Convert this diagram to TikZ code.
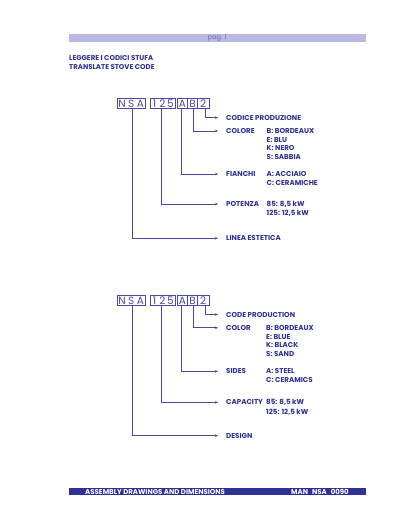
\documentclass[tikz,border=0pt]{standalone}
\usepackage{fontspec}
\setmainfont{Poppins}
\usetikzlibrary{arrows.meta}
\definecolor{navy}{HTML}{2E3192}
\definecolor{linec}{HTML}{4A4AA6}
\definecolor{lav}{HTML}{B9B9E3}
\definecolor{pagc}{HTML}{6A6AAE}
\begin{document}
\begin{tikzpicture}[x=1pt,y=-1pt,
  codebox/.style={draw=linec, line width=0.65pt, minimum height=10.5pt, inner sep=0pt},
  codechar/.style={text=linec, font=\fontsize{10.5}{10.5}\selectfont, inner sep=0pt},
  conn/.style={draw=linec, line width=0.65pt, -{Stealth[length=3pt,width=2.6pt]}},
  lbl/.style={anchor=west, inner xsep=8pt, inner ysep=0pt, text height=5pt, text depth=0pt, text=navy, font=\bfseries\fontsize{7.1}{8}\selectfont},
  val/.style={anchor=west, inner sep=0pt, text height=5pt, text depth=0pt, text=navy, font=\bfseries\fontsize{7.1}{8}\selectfont},
  title/.style={anchor=west, inner sep=0pt, text height=5pt, text depth=0pt, text=navy, font=\bfseries\fontsize{7}{8}\selectfont},
  foot/.style={anchor=west, inner sep=0pt, text height=5pt, text depth=0pt, text=white, font=\bfseries\fontsize{7}{8}\selectfont}]
\useasboundingbox (0,0) rectangle (400,518);
\fill[white] (0,0) rectangle (400,518);
% header
\node[fill=lav, minimum width=296.7pt, minimum height=7.4pt, inner sep=0pt] (hbar) at (217.35,38) {};
\node[text=pagc, font=\fontsize{6.5}{7}\selectfont, inner sep=0pt] (pag) at (hbar.center) {pag. 1};
\node[title] (t1) at (69,57.7) {LEGGERE I CODICI STUFA};
\node[title] (t2) at (69,66.7) {TRANSLATE STOVE CODE};
% footer
\node[fill=navy, minimum width=296.7pt, minimum height=7pt, inner sep=0pt] (fbar) at (217.35,491.5) {};
\node[foot] (ft1) at (85,491.5) {ASSEMBLY DRAWINGS AND DIMENSIONS};
\node[foot] (ft2) at (291,491.5) {MAN\hspace{4pt}NSA\hspace{4pt}0090};
% diagram 1
\begin{scope}[name prefix=a-]
\node[codebox, minimum width=28.5pt] (bnsa) at (131.25,103.5) {};
\node[codebox, minimum width=25pt] (b125) at (162.5,103.5) {};
\node[codebox, minimum width=10.4pt] (ba) at (182.5,103.5) {};
\node[codebox, minimum width=9.6pt] (bb) at (192.5,103.5) {};
\node[codebox, minimum width=11.7pt] (b2) at (203.15,103.5) {};
\node[codechar] (cn) at (122,103.5) {N};
\node[codechar] (cs) at (131.3,103.5) {S};
\node[codechar] (ca) at (140.5,103.5) {A};
\node[codechar] (c1) at (154.5,103.5) {1};
\node[codechar] (c2) at (162.5,103.5) {2};
\node[codechar] (c5) at (170.5,103.5) {5};
\node[codechar] (cA) at (182.5,103.5) {A};
\node[codechar] (cB) at (192.5,103.5) {B};
\node[codechar] (cd) at (203.2,103.5) {2};
\node[lbl] (l1) at (218,117.7) {CODICE PRODUZIONE};
\node[lbl] (l2) at (218,131) {COLORE};
\node[lbl] (l3) at (218,174) {FIANCHI};
\node[lbl] (l4) at (218,204) {POTENZA};
\node[lbl] (l5) at (218,238.3) {LINEA ESTETICA};
\node[val] (v21) at (266.5,131) {B: BORDEAUX};
\node[val] (v22) at (266.5,140) {E: BLU};
\node[val] (v23) at (266.5,148.5) {K: NERO};
\node[val] (v24) at (266.5,157.3) {S: SABBIA};
\node[val] (v31) at (266.5,174) {A: ACCIAIO};
\node[val] (v32) at (266.5,182.7) {C: CERAMICHE};
\node[val] (v41) at (266.5,204) {85: 8,5 kW};
\node[val] (v42) at (266.5,212.7) {125: 12,5 kW};
\draw[conn] ([xshift=2pt]b2.south) |- (l1.west);
\draw[conn] ([xshift=0.5pt]bb.south) |- (l2.west);
\draw[conn] ([xshift=-1.2pt]ba.south) |- (l3.west);
\draw[conn] ([xshift=-1.2pt]b125.south) |- (l4.west);
\draw[conn] ([xshift=0.7pt]bnsa.south) |- (l5.west);
\end{scope}
% diagram 2
\begin{scope}[name prefix=b-, shift={(0,197)}]
\node[codebox, minimum width=28.5pt] (bnsa) at (131.25,103.5) {};
\node[codebox, minimum width=25pt] (b125) at (162.5,103.5) {};
\node[codebox, minimum width=10.4pt] (ba) at (182.5,103.5) {};
\node[codebox, minimum width=9.6pt] (bb) at (192.5,103.5) {};
\node[codebox, minimum width=11.7pt] (b2) at (203.15,103.5) {};
\node[codechar] (cn) at (122,103.5) {N};
\node[codechar] (cs) at (131.3,103.5) {S};
\node[codechar] (ca) at (140.5,103.5) {A};
\node[codechar] (c1) at (154.5,103.5) {1};
\node[codechar] (c2) at (162.5,103.5) {2};
\node[codechar] (c5) at (170.5,103.5) {5};
\node[codechar] (cA) at (182.5,103.5) {A};
\node[codechar] (cB) at (192.5,103.5) {B};
\node[codechar] (cd) at (203.2,103.5) {2};
\node[lbl] (l1) at (218,117.5) {CODE PRODUCTION};
\node[lbl] (l2) at (218,130.8) {COLOR};
\node[lbl] (l3) at (218,174.3) {SIDES};
\node[lbl] (l4) at (218,205.3) {CAPACITY};
\node[lbl] (l5) at (218,238.7) {DESIGN};
\node[val] (v21) at (266,130.8) {B: BORDEAUX};
\node[val] (v22) at (266,139.7) {E: BLUE};
\node[val] (v23) at (266,148.3) {K: BLACK};
\node[val] (v24) at (266,157.3) {S: SAND};
\node[val] (v31) at (266,174.3) {A: STEEL};
\node[val] (v32) at (266,183) {C: CERAMICS};
\node[val] (v41) at (266,205.3) {85: 8,5 kW};
\node[val] (v42) at (266,214.7) {125: 12,5 kW};
\draw[conn] ([xshift=2pt]b2.south) |- (l1.west);
\draw[conn] ([xshift=0.5pt]bb.south) |- (l2.west);
\draw[conn] ([xshift=-1.2pt]ba.south) |- (l3.west);
\draw[conn] ([xshift=-1.2pt]b125.south) |- (l4.west);
\draw[conn] ([xshift=0.7pt]bnsa.south) |- (l5.west);
\end{scope}
\end{tikzpicture}
\end{document}
